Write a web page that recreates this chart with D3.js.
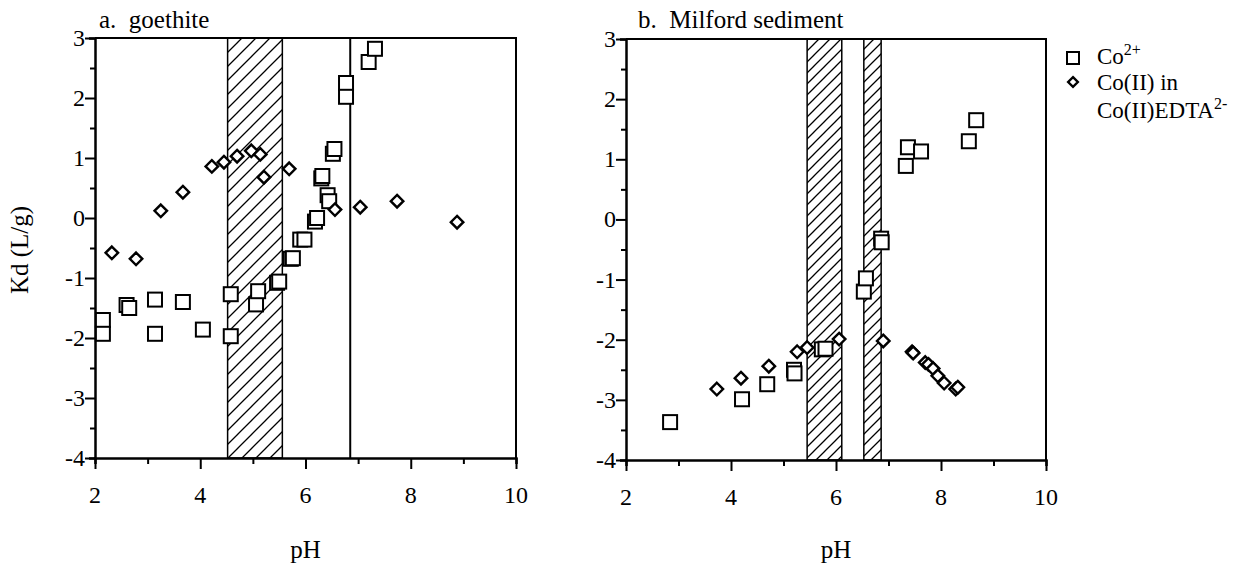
<!DOCTYPE html>
<html>
<head>
<meta charset="utf-8">
<script src="https://cdn.jsdelivr.net/npm/d3@7"></script>
<style>
  body { margin: 0; background: #fff; }
</style>
</head>
<body>
<div id="chart"></div>
<script>
// 数据 (pH, Kd)
const goethiteCo = [
  [2.15, -1.7], [2.15, -1.93], [2.6, -1.45], [2.65, -1.5], [3.14, -1.36], [3.14, -1.93],
  [3.67, -1.4], [4.05, -1.86], [4.58, -1.27], [4.58, -1.97], [5.06, -1.44], [5.1, -1.22],
  [5.46, -1.08], [5.5, -1.06], [5.72, -0.68], [5.76, -0.67], [5.9, -0.36], [5.98, -0.36],
  [6.18, -0.06], [6.22, 0.0], [6.3, 0.66], [6.32, 0.7], [6.42, 0.38], [6.45, 0.28],
  [6.52, 1.07], [6.55, 1.15], [6.77, 2.25], [6.77, 2.02], [7.2, 2.6], [7.32, 2.82]
];
const goethiteEdta = [
  [2.32, -0.58], [2.78, -0.68], [3.25, 0.12], [3.67, 0.43], [4.22, 0.86], [4.45, 0.93],
  [4.7, 1.03], [4.97, 1.12], [5.14, 1.06], [5.21, 0.68], [5.69, 0.82], [6.56, 0.14],
  [7.04, 0.18], [7.74, 0.28], [8.88, -0.07]
];
const milfordCo = [
  [2.84, -3.37], [4.21, -2.99], [4.69, -2.74], [5.2, -2.5], [5.21, -2.56], [5.73, -2.16],
  [5.8, -2.15], [6.53, -1.2], [6.57, -0.98], [6.86, -0.32], [6.87, -0.38], [7.33, 0.89],
  [7.37, 1.2], [7.62, 1.13], [8.53, 1.3], [8.67, 1.65]
];
const milfordEdta = [
  [3.73, -2.82], [4.19, -2.64], [4.72, -2.44], [5.26, -2.2], [5.45, -2.13], [6.06, -1.99],
  [6.9, -2.02], [7.45, -2.2], [7.47, -2.22], [7.7, -2.38], [7.76, -2.41], [7.85, -2.48],
  [7.94, -2.6], [8.06, -2.72], [8.28, -2.82], [8.32, -2.79]
];
// 阴影区 (pH 范围) 和竖线
const goethiteBands = [[4.52, 5.56]];
const goethiteLines = [6.85];
const milfordBands = [[5.45, 6.11], [6.53, 6.86]];

const xTicks = [2, 4, 6, 8, 10];
const yTicks = [-4, -3, -2, -1, 0, 1, 2, 3];
const legendLabels = ['Co', 'Co(II) in', 'Co(II)EDTA'];

const FONT = '"Liberation Serif", "Times New Roman", Times, "DejaVu Serif", serif';

const svg = d3.select('#chart')
  .append('svg')
  .attr('width', 1248)
  .attr('height', 568)
  .style('font-family', FONT);

// 所有文字统一用衬线字体
function label(sel, size) {
  return sel.append('text')
    .style('font-family', FONT)
    .style('font-size', size + 'px')
    .attr('fill', '#000');
}

// 斜线填充
function addHatch(id, gap) {
  const p = svg.append('defs').append('pattern')
    .attr('id', id)
    .attr('patternUnits', 'userSpaceOnUse')
    .attr('width', gap)
    .attr('height', gap);
  p.append('rect').attr('width', gap).attr('height', gap).attr('fill', '#fff');
  p.append('path')
    .attr('d', `M${-gap},${gap} L${gap},${-gap} M0,${gap} L${gap},0 M0,${2 * gap} L${2 * gap},0`)
    .attr('stroke', '#000')
    .attr('stroke-width', 1.3);
}
addHatch('hatchA', 14);
addHatch('hatchB', 11);

function drawPanel(opt) {
  const x = d3.scaleLinear().domain([2, 10]).range([opt.left, opt.right]);
  const y = d3.scaleLinear().domain([-4, 3]).range([opt.bottom, opt.top]);
  const g = svg.append('g');

  // 阴影区
  g.selectAll('rect.band')
    .data(opt.bands)
    .enter()
    .append('rect')
    .attr('x', d => x(d[0]))
    .attr('y', y(3))
    .attr('width', d => x(d[1]) - x(d[0]))
    .attr('height', y(-4) - y(3))
    .attr('fill', `url(#${opt.hatch})`)
    .attr('stroke', '#000')
    .attr('stroke-width', 1.5);

  g.selectAll('line.vline')
    .data(opt.lines)
    .enter()
    .append('line')
    .attr('x1', d => x(d)).attr('x2', d => x(d))
    .attr('y1', y(3)).attr('y2', y(-4))
    .attr('stroke', '#000')
    .attr('stroke-width', 2);

  // 上边框和右边框
  g.append('path')
    .attr('d', `M${x(2)},${y(3)} H${x(10)} V${y(-4)}`)
    .attr('fill', 'none')
    .attr('stroke', '#000')
    .attr('stroke-width', 2);

  // 坐标轴
  const xAxis = g.append('g')
    .attr('transform', `translate(0,${y(-4)})`)
    .call(d3.axisBottom(x).tickValues(d3.range(2, 10.5, 1)).tickSize(6).tickFormat(''));
  xAxis.selectAll('.tick line')
    .attr('y2', d => d % 2 === 0 ? 11 : 6)
    .attr('stroke-width', 2);
  xAxis.select('.domain').attr('stroke-width', 2.5);
  xTicks.forEach(t => {
    label(g, 24)
      .attr('x', x(t))
      .attr('y', y(-4) + 45)
      .attr('text-anchor', 'middle')
      .text(t);
  });

  const yAxis = g.append('g')
    .attr('transform', `translate(${x(2)},0)`)
    .call(d3.axisLeft(y).tickValues(d3.range(-4, 3.01, 0.5)).tickSize(6).tickFormat(''));
  yAxis.selectAll('.tick line')
    .attr('x2', d => Number.isInteger(d) ? -10 : -5)
    .attr('stroke-width', 2);
  yAxis.select('.domain').attr('stroke-width', 2.5);
  yTicks.forEach(t => {
    label(g, 24)
      .attr('x', x(2) - 10)
      .attr('y', y(t) + 8)
      .attr('text-anchor', 'end')
      .text(t);
  });

  // 标题和 x 轴名称
  label(g, 25)
    .attr('x', opt.titleX)
    .attr('y', 28)
    .style('white-space', 'pre')
    .text(opt.title);
  label(g, 25)
    .attr('x', x(6))
    .attr('y', 558)
    .attr('text-anchor', 'middle')
    .text('pH');

  // 数据点
  g.selectAll('rect.sq')
    .data(opt.squares)
    .enter()
    .append('rect')
    .attr('x', d => x(d[0]) - 7)
    .attr('y', d => y(d[1]) - 7)
    .attr('width', 14)
    .attr('height', 14)
    .attr('fill', '#fff')
    .attr('stroke', '#000')
    .attr('stroke-width', 2);

  g.selectAll('path.dm')
    .data(opt.diamonds)
    .enter()
    .append('path')
    .attr('d', d3.symbol(d3.symbolDiamond2, 100))
    .attr('transform', d => `translate(${x(d[0])},${y(d[1])})`)
    .attr('fill', '#fff')
    .attr('stroke', '#000')
    .attr('stroke-width', 2.4);
}

drawPanel({
  left: 95, right: 516, top: 38, bottom: 458,
  bands: goethiteBands, lines: goethiteLines, hatch: 'hatchA',
  squares: goethiteCo, diamonds: goethiteEdta,
  title: 'a.  goethite', titleX: 99
});
drawPanel({
  left: 626, right: 1046, top: 39, bottom: 460,
  bands: milfordBands, lines: [], hatch: 'hatchB',
  squares: milfordCo, diamonds: milfordEdta,
  title: 'b.  Milford sediment', titleX: 638
});

// y 轴名称
label(svg, 25)
  .attr('transform', 'translate(28,250) rotate(-90)')
  .attr('text-anchor', 'middle')
  .text('Kd (L/g)');

// 图例
const legend = svg.append('g');
legend.append('rect')
  .attr('x', 1067).attr('y', 52).attr('width', 12).attr('height', 12)
  .attr('fill', '#fff').attr('stroke', '#000').attr('stroke-width', 2);
legend.append('path')
  .attr('d', d3.symbol(d3.symbolDiamond2, 60))
  .attr('transform', 'translate(1073,82)')
  .attr('fill', '#fff').attr('stroke', '#000').attr('stroke-width', 2.4);

const t1 = label(legend, 23).attr('x', 1097).attr('y', 64);
t1.append('tspan').text(legendLabels[0]);
t1.append('tspan').attr('dy', -9).style('font-size', '16px').text('2+');
label(legend, 23).attr('x', 1097).attr('y', 90).text(legendLabels[1]);
const t3 = label(legend, 23).attr('x', 1097).attr('y', 118);
t3.append('tspan').text(legendLabels[2]);
t3.append('tspan').attr('dy', -9).style('font-size', '16px').text('2-');
</script>
</body>
</html>
